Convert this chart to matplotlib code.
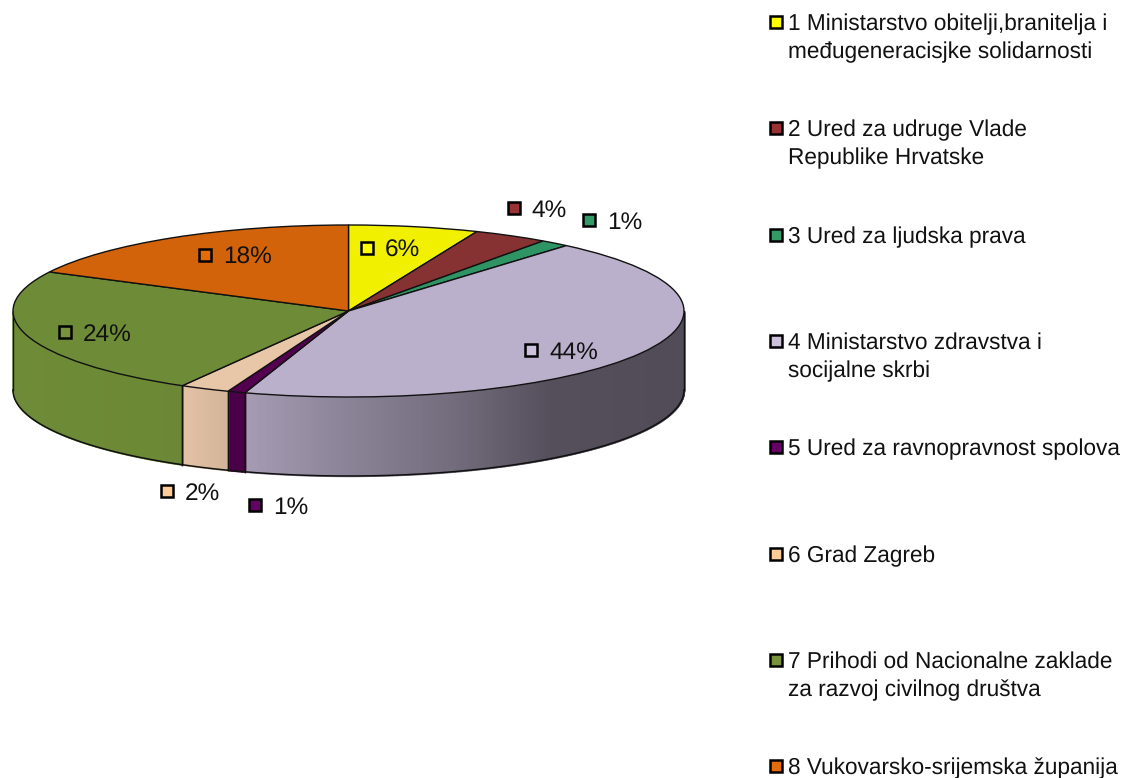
import matplotlib
matplotlib.use('Agg')
import matplotlib.pyplot as plt
import numpy as np

plt.rcParams['font.family'] = ['Liberation Sans', 'DejaVu Sans']
plt.rcParams['text.hinting'] = 'none'

# podaci
values = [6.25, 3.6, 1.4, 43.75, 0.85, 2.4, 24.25, 17.5]
percent_labels = ['6%', '4%', '1%', '44%', '1%', '2%', '24%', '18%']
legend_labels = [
    '1 Ministarstvo obitelji,branitelja i\nmeđugeneracisjke solidarnosti',
    '2 Ured za udruge Vlade\nRepublike Hrvatske',
    '3 Ured za ljudska prava',
    '4 Ministarstvo zdravstva i\nsocijalne skrbi',
    '5 Ured za ravnopravnost spolova',
    '6 Grad Zagreb',
    '7 Prihodi od Nacionalne zaklade\nza razvoj civilnog društva',
    '8 Vukovarsko-srijemska županija',
]
colors = ['#F0F000', '#873232', '#2F9463', '#BBB0CB', '#52004F', '#E8C6A8', '#6E8B37', '#D2630A']
marker_colors = ['#FFFF00', '#993333', '#339966', '#CCC0DA', '#660066', '#FFCC99', '#77933C', '#E36C09']

W, H = 1123, 778
cx, cy, rx, ry, depth = 348.5, 311, 335.5, 86, 79

# polozaji oznaka (pikseli)
label_pos = [(367, 248), (513.5, 208), (589, 220), (531, 350),
             (255, 505), (167, 491), (65, 332), (205, 255)]
legend_y = [22, 128, 235, 341, 447, 554, 660, 766]

# sjencanje bocne strane
shade_x = [-1, -0.5, -0.3, 0, 0.3, 0.6, 1]
shade_f = [1, 0.98, 0.88, 0.74, 0.62, 0.45, 0.43]

fig = plt.figure(figsize=(W / 100, H / 100), dpi=100)
ax = fig.add_axes([0, 0, 1, 1])
ax.pie(values, colors=colors, startangle=90, counterclock=False, radius=1,
       wedgeprops={'edgecolor': '#111111', 'linewidth': 1.0, 'zorder': 5})
ax.set_aspect('auto')
ax.set_xlim(-cx / rx, (W - cx) / rx)
ax.set_ylim((cy - H) / ry, cy / ry)
d = depth / ry

# bocna strana kruga
edges = np.concatenate([[0], np.cumsum(values)]) / np.sum(values) * 2 * np.pi
for i, c in enumerate(colors):
    a0 = max(edges[i], np.pi / 2)
    a1 = min(edges[i + 1], 3 * np.pi / 2)
    if a1 <= a0:
        continue
    base = np.array(matplotlib.colors.to_rgb(c))
    t = np.linspace(a0, a1, max(int((a1 - a0) * 120), 2))
    for t0, t1 in zip(t[:-1], t[1:]):
        x = np.sin([t0, t1])
        y = np.cos([t0, t1])
        col = base * np.interp(x.mean(), shade_x, shade_f)
        # rub iste boje da se ne vide pruge
        ax.fill_between(x, y, y - d, facecolor=col, edgecolor=col, lw=1.0, zorder=2)
    x = np.sin(t)
    y = np.cos(t)
    ax.plot(x, y - d, color='#111111', lw=1.1, zorder=3)
    ax.plot([x[0], x[0]], [y[0], y[0] - d], color='#111111', lw=1.0, zorder=3)
    ax.plot([x[-1], x[-1]], [y[-1], y[-1] - d], color='#111111', lw=1.0, zorder=3)

# sloj za tekst u pikselima
top = fig.add_axes([0, 0, 1, 1])
top.set_xlim(0, W)
top.set_ylim(H, 0)
top.axis('off')

for (x, y), lab, mc in zip(label_pos, percent_labels, marker_colors):
    top.plot([x], [y], 's', ms=8, mfc=mc, mec='black', mew=1.8)
    top.text(x + 18, y + 3, lab, fontsize=17.6, va='center', ha='left', color='#111111')

for y, lab, mc in zip(legend_y, legend_labels, marker_colors):
    top.plot([776], [y], 's', ms=8, mfc=mc, mec='black', mew=1.8)
    top.text(787.5, y - 8.5, lab, fontsize=16.3, va='top', ha='left', color='#111111', linespacing=1.42)

fig.savefig('out.png', dpi=100)
